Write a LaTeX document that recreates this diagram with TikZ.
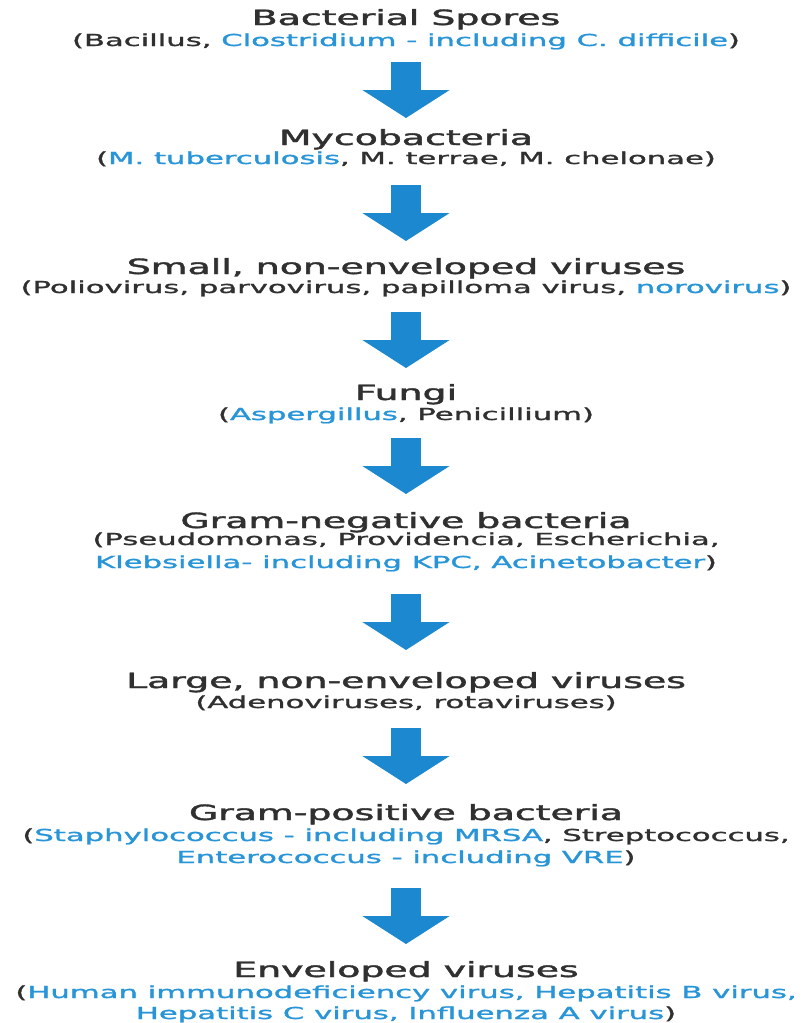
\documentclass[tikz,border=0pt]{standalone}
\usepackage{fontspec}
\setmainfont{DejaVu Sans}
\newfontfamily\ttlfont[FakeBold=1.6]{DejaVu Sans}
\newfontfamily\subfont[FakeBold=1.1]{DejaVu Sans}
\usetikzlibrary{arrows.meta}
\definecolor{txt}{HTML}{303030}
\definecolor{lnk}{HTML}{2895D8}
\definecolor{arr}{HTML}{1C88CF}
\newcommand{\hst}[1]{\scalebox{1.8}[1]{#1}}
\newcommand{\hs}[1]{\scalebox{1.86}[1]{#1}}
\newcommand{\bl}[1]{\textcolor{lnk}{#1}}
\begin{document}
\begin{tikzpicture}[x=1pt,y=-1pt,
  ttl/.style={anchor=base, text=txt, inner sep=0pt, font=\ttlfont\fontsize{21}{24}\selectfont},
  sub/.style={anchor=base, text=txt, inner sep=0pt, font=\subfont\fontsize{16.5}{20}\selectfont},
  bigarrow/.style={draw=arr, line width=30pt, -{Triangle[width=86pt 0, length=28pt 0 0]}}]
\fill[white] (0,0) rectangle (803,1023);
\path[use as bounding box] (0,0) rectangle (803,1023);

% 1
\node[ttl] (t1) at (406,25) {\hst{Bacterial Spores}};
\node[sub] (s1) at (406,46) {\hs{(Bacillus, \bl{Clostridium - including C. difficile})}};
% 2
\node[ttl] (t2) at (406,145) {\hst{Mycobacteria}};
\node[sub] (s2) at (406,164) {\hs{(\bl{M. tuberculosis}, M. terrae, M. chelonae)}};
% 3
\node[ttl] (t3) at (406,274) {\hst{Small, non-enveloped viruses}};
\node[sub] (s3) at (406,293) {\hs{(Poliovirus, parvovirus, papilloma virus, \bl{norovirus})}};
% 4
\node[ttl] (t4) at (406,400) {\hst{Fungi}};
\node[sub] (s4) at (406,420) {\hs{(\bl{Aspergillus}, Penicillium)}};
% 5
\node[ttl] (t5) at (406,528) {\hst{Gram-negative bacteria}};
\node[sub] (s5a) at (406,545) {\hs{(Pseudomonas, Providencia, Escherichia,}};
\node[sub] (s5b) at (406,568) {\hs{\bl{Klebsiella- including KPC, Acinetobacter})}};
% 6
\node[ttl] (t6) at (406,688) {\hst{Large, non-enveloped viruses}};
\node[sub] (s6) at (406,708) {\hs{(Adenoviruses, rotaviruses)}};
% 7
\node[ttl] (t7) at (406,820) {\hst{Gram-positive bacteria}};
\node[sub] (s7a) at (406,841) {\hs{(\bl{Staphylococcus - including MRSA}, Streptococcus,}};
\node[sub] (s7b) at (406,863) {\hs{\bl{Enterococcus - including VRE})}};
% 8
\node[ttl] (t8) at (406,977) {\hst{Enveloped viruses}};
\node[sub] (s8a) at (406,998) {\hs{(\bl{Human immunodeficiency virus, Hepatitis B virus,}}};
\node[sub] (s8b) at (406,1019) {\hs{\bl{Hepatitis C virus, Influenza A virus})}};

% arrows
\coordinate (a1s) at (406,62);  \coordinate (a1e) at (406,118);
\coordinate (a2s) at (406,185); \coordinate (a2e) at (406,241);
\coordinate (a3s) at (406,312); \coordinate (a3e) at (406,368);
\coordinate (a4s) at (406,438); \coordinate (a4e) at (406,494);
\coordinate (a5s) at (406,594); \coordinate (a5e) at (406,650);
\coordinate (a6s) at (406,728); \coordinate (a6e) at (406,784);
\coordinate (a7s) at (406,888); \coordinate (a7e) at (406,944);
\foreach \i in {1,...,7} {\draw[bigarrow] (a\i s) -- (a\i e);}
\end{tikzpicture}
\end{document}
